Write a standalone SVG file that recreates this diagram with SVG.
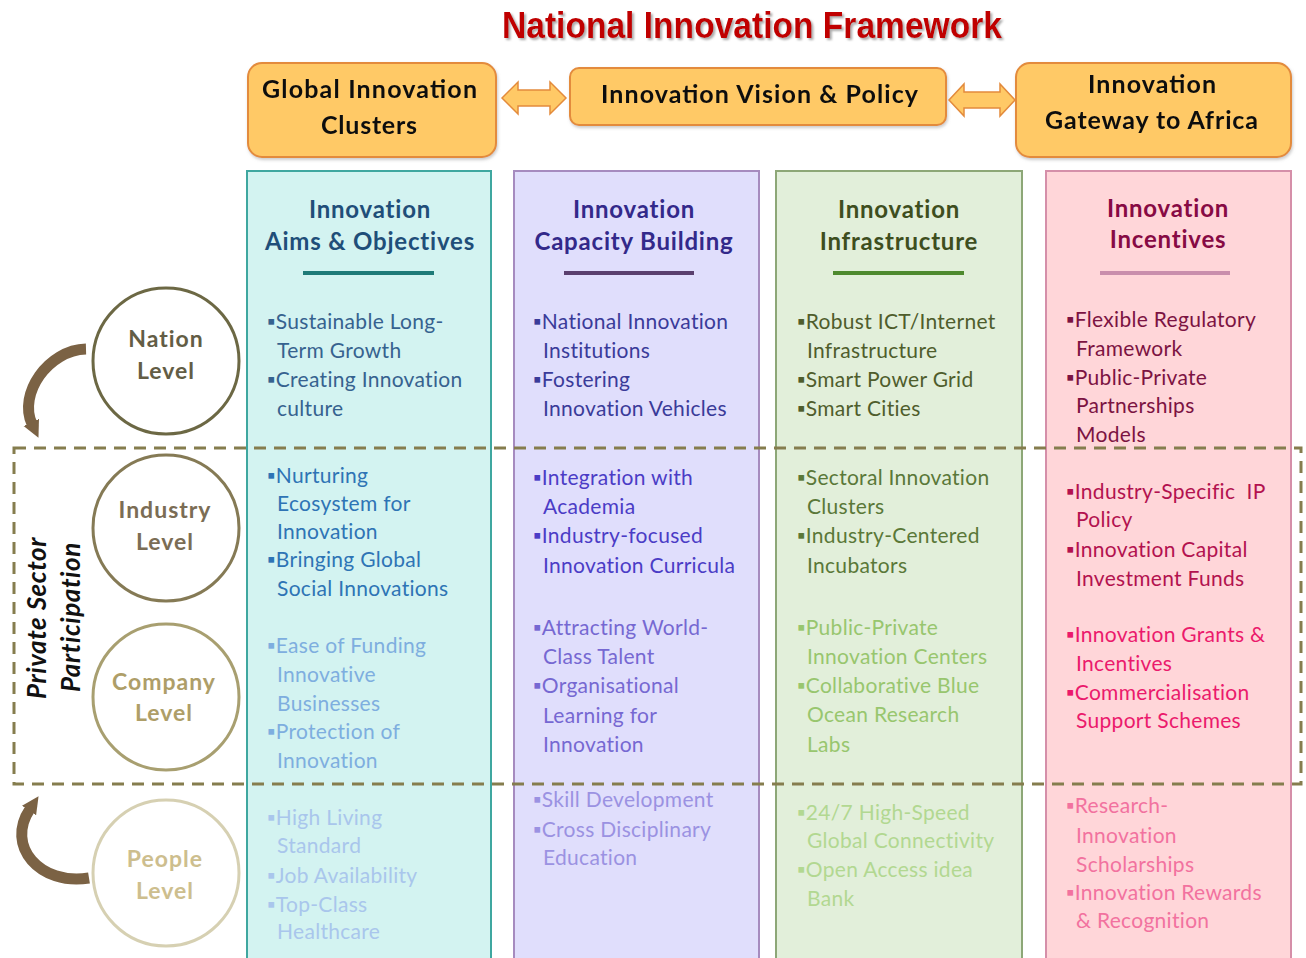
<svg xmlns="http://www.w3.org/2000/svg" width="1306" height="958" viewBox="0 0 1306 958">
<defs>
<style>
.t{font-family:Lato,"Open Sans","DejaVu Sans",sans-serif;font-size:21px;letter-spacing:0.3px}
.h{font-family:Lato,"Open Sans","DejaVu Sans",sans-serif;font-size:24px;font-weight:bold;text-anchor:middle;letter-spacing:0.8px}
.ob{fill:#FFC966;stroke:#E38B3C;stroke-width:2}
.ot{font-family:Lato,"Open Sans","DejaVu Sans",sans-serif;font-size:25px;font-weight:bold;fill:#111}
.ci{fill:#fff;stroke-width:3}
.cl{font-family:Lato,"Open Sans","DejaVu Sans",sans-serif;font-size:23px;font-weight:bold;text-anchor:middle;letter-spacing:1px}
.ps{font-family:Lato,"Open Sans","DejaVu Sans",sans-serif;font-size:26px;font-weight:bold;font-style:italic;fill:#111;text-anchor:middle;letter-spacing:0.6px}
.pre{white-space:pre}
.c1n{fill:#36628F}.c1i{fill:#2E74B5}.c1c{fill:#7EAEDF}.c1p{fill:#A9C6EC}
.c2n{fill:#3A3B99}.c2i{fill:#4B3CC6}.c2c{fill:#7668D2}.c2p{fill:#9B92E2}
.c3n{fill:#4F5D2C}.c3i{fill:#5A7838}.c3c{fill:#98C66E}.c3p{fill:#B2D891}
.c4n{fill:#7C1342}.c4i{fill:#B3124F}.c4c{fill:#EB1A6C}.c4p{fill:#F2729F}
.curl{fill:none;stroke:#7B6244;stroke-width:11;stroke-linecap:butt}
</style>
<filter id="sh" x="-5%" y="-20%" width="110%" height="150%">
<feDropShadow dx="2" dy="2" stdDeviation="1.2" flood-color="#888" flood-opacity="0.7"/>
</filter>
<filter id="bs" x="-5%" y="-10%" width="110%" height="130%">
<feDropShadow dx="1" dy="2" stdDeviation="1.5" flood-color="#999" flood-opacity="0.5"/>
</filter>
<marker id="ah" viewBox="0 0 10 10" refX="1" refY="5" markerWidth="17" markerHeight="22" markerUnits="userSpaceOnUse" orient="auto">
<path d="M0,0 L10,5 L0,10 Z" fill="#7B6244"/>
</marker>
</defs>

<rect width="1306" height="958" fill="#fff"/>

<g id="title">
<text x="502" y="38" textLength="500" lengthAdjust="spacingAndGlyphs" font-family="'Liberation Sans',Arial,sans-serif" font-size="36" font-weight="bold" fill="#C00000" filter="url(#sh)">National Innovation Framework</text>
</g>

<!-- columns -->
<g id="col-aims">
<rect x="247" y="171" width="244" height="800" fill="#D3F3F1" stroke="#3FA7A0" stroke-width="2"/>
<text class="h" x="370" y="218" fill="#1F4E79">Innovation</text>
<text class="h" x="370" y="250" fill="#1F4E79">Aims &amp; Objectives</text>
<rect x="303" y="271" width="131" height="4" fill="#1E7A78"/>
<g class="t c1n"><text x="267" y="329">▪Sustainable Long-</text><text x="277" y="358">Term Growth</text><text x="267" y="387">▪Creating Innovation</text><text x="277" y="416">culture</text></g>
<g class="t c1i"><text x="267" y="483">▪Nurturing</text><text x="277" y="511">Ecosystem for</text><text x="277" y="539">Innovation</text><text x="267" y="567">▪Bringing Global</text><text x="277" y="596">Social Innovations</text></g>
<g class="t c1c"><text x="267" y="653">▪Ease of Funding</text><text x="277" y="682">Innovative</text><text x="277" y="711">Businesses</text><text x="267" y="739">▪Protection of</text><text x="277" y="768">Innovation</text></g>
<g class="t c1p"><text x="267" y="825">▪High Living</text><text x="277" y="853">Standard</text><text x="267" y="883">▪Job Availability</text><text x="267" y="912">▪Top-Class</text><text x="277" y="939">Healthcare</text></g>
</g>

<g id="col-capacity">
<rect x="514" y="171" width="245" height="800" fill="#E0DEFC" stroke="#A68BBF" stroke-width="2"/>
<text class="h" x="634" y="218" fill="#33298A">Innovation</text>
<text class="h" x="634" y="250" fill="#33298A">Capacity Building</text>
<rect x="564" y="271" width="130" height="4" fill="#5A3F6E"/>
<g class="t c2n"><text x="533" y="329">▪National Innovation</text><text x="543" y="358">Institutions</text><text x="533" y="387">▪Fostering</text><text x="543" y="416">Innovation Vehicles</text></g>
<g class="t c2i"><text x="533" y="485">▪Integration with</text><text x="543" y="514">Academia</text><text x="533" y="543">▪Industry-focused</text><text x="543" y="573">Innovation Curricula</text></g>
<g class="t c2c"><text x="533" y="635">▪Attracting World-</text><text x="543" y="664">Class Talent</text><text x="533" y="693">▪Organisational</text><text x="543" y="723">Learning for</text><text x="543" y="752">Innovation</text></g>
<g class="t c2p"><text x="533" y="807">▪Skill Development</text><text x="533" y="837">▪Cross Disciplinary</text><text x="543" y="865">Education</text></g>
</g>

<g id="col-infrastructure">
<rect x="776" y="171" width="246" height="800" fill="#E2EFDA" stroke="#8DA777" stroke-width="2"/>
<text class="h" x="899" y="218" fill="#3E4E1E">Innovation</text>
<text class="h" x="899" y="250" fill="#3E4E1E">Infrastructure</text>
<rect x="833" y="271" width="131" height="4" fill="#4E8A2E"/>
<g class="t c3n"><text x="797" y="329">▪Robust ICT/Internet</text><text x="807" y="358">Infrastructure</text><text x="797" y="387">▪Smart Power Grid</text><text x="797" y="416">▪Smart Cities</text></g>
<g class="t c3i"><text x="797" y="485">▪Sectoral Innovation</text><text x="807" y="514">Clusters</text><text x="797" y="543">▪Industry-Centered</text><text x="807" y="573">Incubators</text></g>
<g class="t c3c"><text x="797" y="635">▪Public-Private</text><text x="807" y="664">Innovation Centers</text><text x="797" y="693">▪Collaborative Blue</text><text x="807" y="722">Ocean Research</text><text x="807" y="752">Labs</text></g>
<g class="t c3p"><text x="797" y="820">▪24/7 High-Speed</text><text x="807" y="848">Global Connectivity</text><text x="797" y="877">▪Open Access idea</text><text x="807" y="906">Bank</text></g>
</g>

<g id="col-incentives">
<rect x="1046" y="171" width="245" height="800" fill="#FFD6D9" stroke="#D58FA9" stroke-width="2"/>
<text class="h" x="1168" y="217" fill="#870A44">Innovation</text>
<text class="h" x="1168" y="248" fill="#870A44">Incentives</text>
<rect x="1100" y="271" width="130" height="4" fill="#C98EAC"/>
<g class="t c4n"><text x="1066" y="327">▪Flexible Regulatory</text><text x="1076" y="356">Framework</text><text x="1066" y="385">▪Public-Private</text><text x="1076" y="413">Partnerships</text><text x="1076" y="442">Models</text></g>
<g class="t c4i"><text class="pre" x="1066" y="499">▪Industry-Specific  IP</text><text x="1076" y="527">Policy</text><text x="1066" y="557">▪Innovation Capital</text><text x="1076" y="586">Investment Funds</text></g>
<g class="t c4c"><text x="1066" y="642">▪Innovation Grants &amp;</text><text x="1076" y="671">Incentives</text><text x="1066" y="700">▪Commercialisation</text><text x="1076" y="728">Support Schemes</text></g>
<g class="t c4p"><text x="1066" y="813">▪Research-</text><text x="1076" y="843">Innovation</text><text x="1076" y="872">Scholarships</text><text x="1066" y="900">▪Innovation Rewards</text><text x="1076" y="928">&amp; Recognition</text></g>
</g>

<!-- private sector boundary -->
<g id="private-sector">
<rect x="14" y="448" width="1287" height="336" fill="none" stroke="#857D4E" stroke-width="3" stroke-dasharray="12 8"/>
<text class="ps" transform="translate(46,618) rotate(-90)">Private Sector</text>
<text class="ps" transform="translate(80,617) rotate(-90)">Participation</text>
</g>

<!-- top boxes -->
<g id="global-clusters" filter="url(#bs)">
<rect class="ob" x="248" y="63" width="248" height="94" rx="14"/>
<text class="ot" x="262" y="98" textLength="215" lengthAdjust="spacing">Global  Innovation</text>
<text class="ot" x="321" y="134" textLength="96" lengthAdjust="spacing">Clusters</text>
</g>
<g id="vision-policy" filter="url(#bs)">
<rect class="ob" x="570" y="68" width="376" height="57" rx="9"/>
<text class="ot" x="601" y="103" textLength="317" lengthAdjust="spacing">Innovation  Vision  &amp;  Policy</text>
</g>
<g id="gateway-africa" filter="url(#bs)">
<rect class="ob" x="1016" y="63" width="275" height="94" rx="14"/>
<text class="ot" x="1088" y="93" textLength="128" lengthAdjust="spacing">Innovation</text>
<text class="ot" x="1045" y="129" textLength="213" lengthAdjust="spacing">Gateway to Africa</text>
</g>

<!-- level circles -->
<g id="nation-level">
<circle class="ci" cx="166" cy="361" r="73" stroke="#6C6844"/>
<text class="cl" x="166" y="347" fill="#635D45">Nation</text>
<text class="cl" x="166" y="379" fill="#635D45">Level</text>
</g>
<g id="industry-level">
<circle class="ci" cx="166" cy="528" r="73" stroke="#857A55"/>
<text class="cl" x="165" y="518" fill="#7B6D55">Industry</text>
<text class="cl" x="165" y="550" fill="#7B6D55">Level</text>
</g>
<g id="company-level">
<circle class="ci" cx="166" cy="697" r="73" stroke="#A89F70"/>
<text class="cl" x="164" y="690" fill="#AE9E68">Company</text>
<text class="cl" x="164" y="721" fill="#AE9E68">Level</text>
</g>
<g id="people-level">
<circle class="ci" cx="166" cy="873" r="73" stroke="#D6D0B2"/>
<text class="cl" x="165" y="867" fill="#CDBE8E">People</text>
<text class="cl" x="165" y="899" fill="#CDBE8E">Level</text>
</g>

<!-- connectors -->
<g id="connectors">
<path d="M502,98 L518,82 L518,90 L550,90 L550,82 L566,98 L550,114 L550,106 L518,106 L518,114 Z" fill="#FFC966" stroke="#E38B3C" stroke-width="1.5"/>
<path d="M949,100 L964,84 L964,92 L1000,92 L1000,84 L1015,100 L1000,116 L1000,108 L964,108 L964,116 Z" fill="#FFC966" stroke="#E38B3C" stroke-width="1.5"/>
<path class="curl" d="M86,349 C48,350 18,394 32,424" marker-end="url(#ah)"/>
<path class="curl" d="M89,878 C40,886 5,846 30,809" marker-end="url(#ah)"/>
</g>
</svg>
